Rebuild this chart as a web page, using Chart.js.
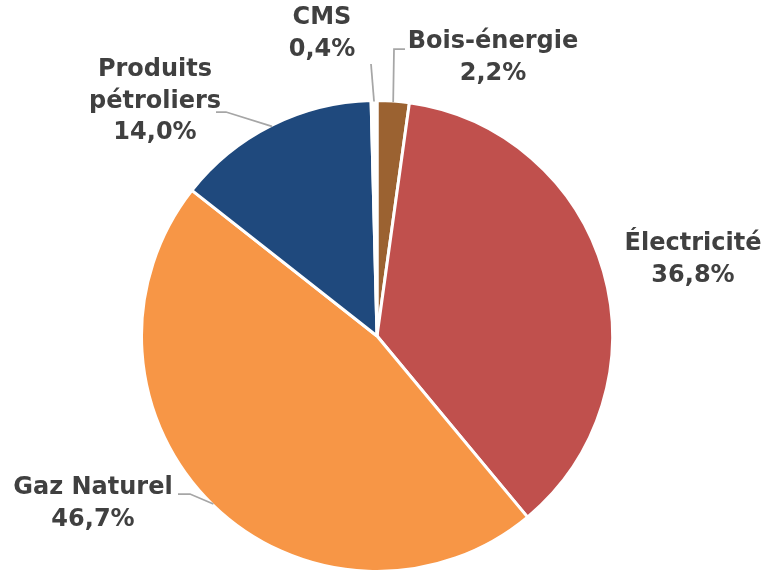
<!DOCTYPE html>
<html>
<head>
<meta charset="utf-8">
<script src="https://cdn.jsdelivr.net/npm/chart.js@4/dist/chart.umd.min.js"></script>
<style>
  html, body { margin: 0; padding: 0; background: #fff; }
  #wrap { width: 765px; height: 573px; position: relative; }
</style>
</head>
<body>
<div id="wrap"><canvas id="chartEnergie"></canvas></div>
<script>
// Data (reading clockwise from the top)
const categories = ['Bois-énergie', 'Électricité', 'Gaz Naturel', 'Produits pétroliers', 'CMS'];
const shares = [2.2, 36.8, 46.7, 14.0, 0.4];
const sliceColors = ['#9b6231', '#c0504d', '#f79646', '#1f497d', '#ffffff'];

// Label placement: text lines, centre of text block, leader line points after the arc
const labelLayout = [
  { lines: ['Bois-énergie'], x: 493, y: 42, leader: [[394, 49], [405, 49]] },
  { lines: ['Électricité'], x: 693, y: 244, leader: null },
  { lines: ['Gaz Naturel'], x: 93, y: 488, leader: [[190, 494], [178, 494]] },
  { lines: ['Produits', 'pétroliers'], x: 155, y: 70, leader: [[226, 112], [216, 112]] },
  { lines: ['CMS'], x: 322, y: 18, leader: [[371, 64]] }
];

const pct = v => v.toFixed(1).replace('.', ',') + '%';

const labelPlugin = {
  id: 'pieLabels',
  afterDatasetsDraw(chart) {
    const ctx = chart.ctx;
    const arcs = chart.getDatasetMeta(0).data;
    ctx.save();
    arcs.forEach((arc, i) => {
      const cfg = labelLayout[i];
      const mid = (arc.startAngle + arc.endAngle) / 2;
      if (cfg.leader) {
        const r = arc.outerRadius - 1;
        ctx.beginPath();
        ctx.moveTo(arc.x + Math.cos(mid) * r, arc.y + Math.sin(mid) * r);
        cfg.leader.forEach(p => ctx.lineTo(p[0], p[1]));
        ctx.strokeStyle = '#a6a6a6';
        ctx.lineWidth = 1.75;
        ctx.stroke();
      }
      const lines = cfg.lines.concat([pct(shares[i])]);
      ctx.fillStyle = '#404040';
      ctx.font = 'bold 24px "DejaVu Sans"';
      ctx.textAlign = 'center';
      ctx.textBaseline = 'middle';
      lines.forEach((t, k) => ctx.fillText(t, cfg.x, cfg.y + k * 31.5));
    });
    ctx.restore();
  }
};

new Chart(document.getElementById('chartEnergie').getContext('2d'), {
  type: 'pie',
  data: {
    labels: categories,
    datasets: [{
      data: shares,
      backgroundColor: sliceColors,
      borderColor: '#ffffff',
      borderWidth: 3
    }]
  },
  options: {
    responsive: true,
    maintainAspectRatio: false,
    animation: false,
    layout: { padding: { top: 99, bottom: 0, left: 140, right: 151 } },
    plugins: { legend: { display: false }, tooltip: { enabled: false } }
  },
  plugins: [labelPlugin]
});
</script>
</body>
</html>
